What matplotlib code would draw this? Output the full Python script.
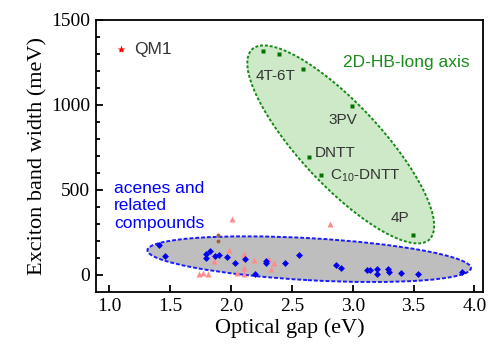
import numpy as np
import matplotlib.pyplot as plt
import matplotlib.transforms as mtransforms
from matplotlib.patches import Ellipse

# acenes and related compounds
blue_x = [1.41, 1.46, 1.83, 1.795, 1.795, 1.87, 1.90, 1.97, 2.03, 2.115, 2.20, 2.29, 2.29,
          2.444, 2.555, 2.86, 2.90, 3.12, 3.145, 3.20, 3.20, 3.29, 3.295, 3.40, 3.54, 3.90]
blue_y = [177, 112, 142, 122, 102, 112, 116, 108, 73, 96, 8, 85, 69,
          73, 116, 61, 43, 28, 28, 37, 8, 37, 18, 10, 4, 20]

pink_x = [1.986, 2.107, 1.86, 1.74, 1.77, 1.81, 2.107, 2.045, 2.107, 2.19, 2.315, 2.356,
          2.326, 2.01, 2.81]
pink_y = [148, 122, 83, 5, 10, 6, 43, 14, 4, 87, 96, 73, 37, 330, 299]

brown_x = [1.89, 1.89]
brown_y = [234, 197]

# 2D-HB long axis
green_x = [2.265, 2.395, 2.595, 2.993, 2.642, 2.743, 3.492]
green_y = [1319, 1298, 1209, 996, 693, 589, 238]

qm1_x, qm1_y = 1.095, 1327

labels = ['4T-6T', '3PV', 'DNTT', r'C$_{10}$-DNTT', '4P']
label_x = [2.362, 2.916, 2.691, 2.809, 3.385]
label_y = [1170, 910, 719, 585, 333]
label_ha = ['center', 'center', 'left', 'left', 'center']

plt.rcParams['font.family'] = ['Liberation Serif', 'DejaVu Serif']
plt.rcParams['mathtext.fontset'] = 'custom'
plt.rcParams['mathtext.rm'] = 'Liberation Sans'

fig = plt.figure(figsize=(4.9, 3.52), dpi=100)
ax = fig.add_axes([0.1959, 0.1705, 0.7898, 0.7727])


def add_ell(xc, yc, w, h, ang, fc, ec, ls):
    # size in inches, centred on a data point
    tr = fig.dpi_scale_trans + mtransforms.ScaledTranslation(xc, yc, ax.transData)
    e = Ellipse((0, 0), w, h, angle=ang, transform=tr, facecolor=fc,
                edgecolor=ec, linestyle=ls, linewidth=1.4, zorder=1)
    ax.add_patch(e)


add_ell(2.901, 768, 2.60, 0.81, -47, '#cde9c8', '#158a15', (0, (1.5, 1.0)))
add_ell(2.642, 93, 3.24, 0.42, -3.2, '#bfbebe', '#1a1aff', (0, (2.0, 1.0)))

ax.plot(pink_x, pink_y, '^', color='#ff8c8c', ms=4.5, mec='none', zorder=3)
ax.plot(blue_x, blue_y, 'D', color='#0000ee', ms=3.5, mec='none', zorder=4)
ax.plot(brown_x, brown_y, 'o', color='#a0603a', ms=2.8, mec='none', zorder=4)
ax.plot(green_x, green_y, 's', color='#007000', ms=2.4, mec='none', zorder=4)
ax.plot([qm1_x], [qm1_y], '*', color='red', ms=6, mec='none', zorder=4)

sans = ['Liberation Sans', 'DejaVu Sans']
ax.text(1.20, qm1_y, 'QM1', family=sans, fontsize=12.5, color='#333333', va='center')
ax.text(2.919, 1250, '2D-HB-long axis', family=sans, fontsize=12.5, color='#1a8c1a',
        va='center')
ax.text(1.04, 408, 'acenes and\nrelated\ncompounds', family=sans, fontsize=12.5,
        color='#0000ff', va='center', linespacing=1.2)
for s, lx, ly, ha in zip(labels, label_x, label_y, label_ha):
    ax.text(lx, ly, s, family=sans, fontsize=11, color='#333333', ha=ha, va='center')

ax.set_xlim(0.89, 4.07)
ax.set_ylim(-100, 1500)
ax.set_xticks(np.arange(1.0, 4.01, 0.5))
ax.set_yticks([0, 500, 1000, 1500])
ax.set_yticks(np.arange(0, 1501, 100), minor=True)
ax.tick_params(direction='in', length=5, width=1.3, labelsize=14, pad=4)
ax.tick_params(axis='y', which='minor', direction='in', length=3, width=1.3)
for sp in ax.spines.values():
    sp.set_linewidth(1.3)

ax.set_xlabel('Optical gap (eV)', fontsize=16, labelpad=3)
ax.set_ylabel('Exciton band width (meV)', fontsize=16, labelpad=3)

fig.savefig('out.png', dpi=100)
